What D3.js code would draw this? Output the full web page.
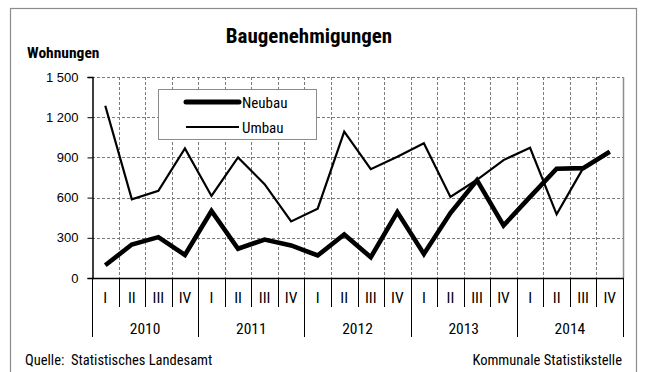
<!DOCTYPE html>
<html>
<head>
<meta charset="utf-8">
<script src="https://cdn.jsdelivr.net/npm/d3@7"></script>
<style>
  html, body { margin: 0; padding: 0; background: #fff; }
  svg { display: block; }
  text { font-family: "Roboto Condensed", "Arial Narrow", "Liberation Sans", Arial, sans-serif; fill: #000; }
</style>
</head>
<body>
<svg id="chart" width="646" height="372"></svg>
<script>
// Baugenehmigungen je Quartal, 2010–2014
const years = ["2010", "2011", "2012", "2013", "2014"];
const quarters = ["I", "II", "III", "IV"];
const neubau = [95, 250, 305, 172, 500, 218, 287, 243, 168, 325, 155, 492, 180, 485, 730, 392, 605, 815, 820, 942];
const umbau  = [1285, 587, 650, 967, 612, 900, 700, 422, 517, 1092, 812, 905, 1005, 605, 733, 880, 972, 475, 820, 942];
const yTicks = [0, 300, 600, 900, 1200, 1500];

const svg = d3.select("#chart");
const plot = { left: 92, right: 623, top: 77, bottom: 278 };

const periods = d3.range(neubau.length);
const x = d3.scaleBand().domain(periods).range([plot.left, plot.right]).padding(0);
const y = d3.scaleLinear().domain([0, 1500]).range([plot.bottom, plot.top]);
const fmt = v => d3.format(",")(v).replace(/,/g, " ");

// Outer frame
svg.append("rect")
  .attr("x", 10.5).attr("y", 8.5)
  .attr("width", 626).attr("height", 380)
  .attr("fill", "none").attr("stroke", "#8c8c8c").attr("stroke-width", 1.2);

// Title
svg.append("text")
  .attr("x", 309).attr("y", 43)
  .attr("text-anchor", "middle")
  .attr("font-size", 21).attr("font-weight", "bold")
  .text("Baugenehmigungen");

svg.append("text")
  .attr("x", 27).attr("y", 58)
  .attr("font-size", 15.5).attr("font-weight", "bold")
  .text("Wohnungen");

// Grid
const grid = svg.append("g").attr("stroke", "#7a7a7a").attr("stroke-width", 1)
  .attr("stroke-dasharray", "3,2").attr("fill", "none");
yTicks.filter(v => v > 0).forEach(v => {
  grid.append("line")
    .attr("x1", plot.left).attr("x2", plot.right)
    .attr("y1", Math.round(y(v)) + 0.5).attr("y2", Math.round(y(v)) + 0.5);
});
periods.slice(1).forEach(i => {
  const xx = Math.round(x(i)) + 0.5;
  grid.append("line")
    .attr("x1", xx).attr("x2", xx)
    .attr("y1", plot.top).attr("y2", plot.bottom);
});
// right edge of the plot area
svg.append("line")
  .attr("x1", plot.right + 0.5).attr("x2", plot.right + 0.5)
  .attr("y1", plot.top).attr("y2", plot.bottom)
  .attr("stroke", "#8c8c8c").attr("stroke-width", 1.5);

// Y axis
const yAxis = d3.axisLeft(y).tickValues(yTicks).tickSize(5).tickPadding(9).tickFormat(fmt);
const gy = svg.append("g").attr("transform", `translate(${plot.left + 0.5},0)`).call(yAxis);
gy.select(".domain").attr("stroke", "#000").attr("stroke-width", 1.5);
gy.selectAll(".tick line").attr("stroke", "#000");
gy.selectAll(".tick text")
  .style("font-family", "'Liberation Sans', Arial, sans-serif")
  .style("font-size", "13px")
  .attr("fill", "#000");

// Category axis: quarters and years
const gx = svg.append("g");
gx.append("line")
  .attr("x1", plot.left).attr("x2", plot.right + 1)
  .attr("y1", plot.bottom + 0.5).attr("y2", plot.bottom + 0.5)
  .attr("stroke", "#000").attr("stroke-width", 1.5);

periods.forEach(i => {
  gx.append("text")
    .attr("x", x(i) + x.bandwidth() / 2).attr("y", 303)
    .attr("text-anchor", "middle").attr("font-size", 15.5)
    .text(quarters[i % 4]);
});
d3.range(periods.length + 1).forEach(i => {
  const xx = Math.round(i < periods.length ? x(i) : plot.right) + 0.5;
  const isYear = i % 4 === 0;
  gx.append("line")
    .attr("x1", xx).attr("x2", xx)
    .attr("y1", plot.bottom).attr("y2", isYear ? 337 : 307)
    .attr("stroke", "#000").attr("stroke-width", 1);
});
years.forEach((yr, k) => {
  const x0 = x(k * 4), x1 = k * 4 + 4 < periods.length ? x(k * 4 + 4) : plot.right;
  gx.append("text")
    .attr("x", (x0 + x1) / 2).attr("y", 333.5)
    .attr("text-anchor", "middle").attr("font-size", 15.5)
    .text(yr);
});

// Series lines
const line = d3.line()
  .x((d, i) => x(i) + x.bandwidth() / 2)
  .y(d => y(d));

svg.append("path").datum(umbau)
  .attr("d", line).attr("fill", "none")
  .attr("stroke", "#000").attr("stroke-width", 2.2).attr("stroke-linejoin", "miter");
svg.append("path").datum(neubau)
  .attr("d", line).attr("fill", "none")
  .attr("stroke", "#000").attr("stroke-width", 4.6).attr("stroke-linejoin", "miter");

// Legend
const lg = svg.append("g");
lg.append("rect")
  .attr("x", 158.5).attr("y", 89.5).attr("width", 158).attr("height", 50)
  .attr("fill", "#fff").attr("stroke", "#8c8c8c").attr("stroke-width", 1);
const legendItems = [{ name: "Neubau", w: 5 }, { name: "Umbau", w: 2.2 }];
legendItems.forEach((it, k) => {
  const ly = 102 + k * 25;
  lg.append("line")
    .attr("x1", 186).attr("x2", 239).attr("y1", ly).attr("y2", ly)
    .attr("stroke", "#000").attr("stroke-width", it.w)
    .attr("stroke-linecap", k === 0 ? "round" : "butt");
  lg.append("text")
    .attr("x", 242).attr("y", ly + 5.5)
    .attr("font-size", 15)
    .text(it.name);
});

// Footer
svg.append("text")
  .attr("x", 25).attr("y", 365).attr("font-size", 14.5)
  .attr("xml:space", "preserve")
  .text("Quelle:  Statistisches Landesamt");
svg.append("text")
  .attr("x", 622).attr("y", 365).attr("font-size", 14.5)
  .attr("text-anchor", "end")
  .text("Kommunale Statistikstelle");
</script>
</body>
</html>
